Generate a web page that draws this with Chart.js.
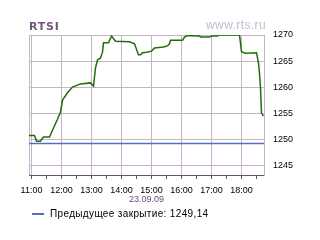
<!DOCTYPE html>
<html>
<head>
<meta charset="utf-8">
<script src="https://cdn.jsdelivr.net/npm/chart.js@4/dist/chart.umd.min.js"></script>
<style>
  body { margin: 0; background: #fff; overflow: hidden; }
  #wrap { position: relative; width: 320px; height: 240px; }
  #wrap div { position: absolute; white-space: nowrap; line-height: 1; }
  #title { left: 29px; top: 21px; font: bold 11px "DejaVu Sans", sans-serif; letter-spacing: 0.8px; color: #74567c; }
  #site { left: 206px; top: 19px; font: 12px "Liberation Sans", Arial, sans-serif; letter-spacing: 0.4px; color: #c8b8d0; }
  #date { left: 129px; top: 195px; font: 9px "Liberation Sans", Arial, sans-serif; color: #6a4a78; }
  #legLine { left: 32px; top: 213px; width: 12px; height: 2px; background: #4f6fc8; }
  #legText { left: 50px; top: 209px; font: 10px "Liberation Sans", Arial, sans-serif; letter-spacing: 0.35px; color: #000; }
</style>
</head>
<body>
<div id="wrap">
  <canvas id="mycanvas" width="320" height="240"></canvas>
  <div id="title">RTSI</div>
  <div id="site">www.rts.ru</div>
  <div id="date">23.09.09</div>
  <div id="legLine"></div>
  <div id="legText">Предыдущее закрытие: 1249,14</div>
</div>
<script>
// minutes since midnight
var times = [655, 666, 670, 678, 684, 696, 702, 712, 718, 722, 732, 742, 758, 778, 784, 788, 792, 798, 802, 804,
             814, 820, 828, 856, 866, 874, 878, 882, 890, 900, 906, 924, 932, 936, 938, 962, 966, 972, 996, 998,
             1016, 1020, 1032, 1034, 1076, 1080, 1088, 1110, 1114, 1116, 1118, 1120, 1124];
var rtsi = [1250.7, 1250.7, 1249.6, 1249.6, 1250.4, 1250.4, 1251.7, 1253.8, 1255.2, 1257.5, 1258.9, 1260.0, 1260.6, 1260.8, 1260.2, 1263.7, 1265.2, 1265.6, 1266.7, 1268.5,
            1268.5, 1269.8, 1268.8, 1268.7, 1268.3, 1266.2, 1266.2, 1266.6, 1266.7, 1266.9, 1267.5, 1267.7, 1267.9, 1268.3, 1269.0, 1269.0, 1269.6, 1269.9, 1269.8, 1269.6,
            1269.6, 1269.8, 1269.8, 1270.0, 1270.0, 1266.8, 1266.5, 1266.6, 1264.6, 1262.7, 1259.8, 1255.0, 1254.4];
var prevClose = 1249.14;
var hourTicks = [660, 720, 780, 840, 900, 960, 1020, 1080];
var hourLabels = ['11:00', '12:00', '13:00', '14:00', '15:00', '16:00', '17:00', '18:00'];
var yTicks = [1245, 1250, 1255, 1260, 1265, 1270];
var xMin = 655, xMax = 1125;

var gridColor = '#c4b4c8';
var axisColor = '#6a4f70';

var points = [];
for (var i in times) {
	points.push({x: times[i], y: rtsi[i]});
}

var xTickVals = [xMin];
for (var t = 660; t <= 1110; t += 30) xTickVals.push(t);

Chart.defaults.font.family = '"Liberation Sans", Arial, sans-serif';

var ctx = document.getElementById('mycanvas');
var chart = new Chart(ctx, {
	type: 'line',
	data: {
		datasets: [
			{
				label: 'RTSI',
				data: points,
				borderColor: '#1f6e0a',
				borderWidth: 1.5,
				pointRadius: 0,
				tension: 0
			},
			{
				label: 'Предыдущее закрытие',
				data: [{x: xMin, y: prevClose}, {x: xMax, y: prevClose}],
				borderColor: '#4f6fc8',
				borderWidth: 1.5,
				pointRadius: 0
			}
		]
	},
	options: {
		responsive: false,
		animation: false,
		layout: { padding: { left: 29, top: 35, right: 0, bottom: 0 } },
		plugins: { legend: { display: false }, title: { display: false }, tooltip: { enabled: false } },
		scales: {
			x: {
				type: 'linear',
				min: xMin,
				max: xMax,
				afterBuildTicks: function(scale) {
					scale.ticks = xTickVals.map(function(v) { return {value: v}; });
				},
				afterFit: function(scale) { scale.height = 65; },
				ticks: {
					autoSkip: false,
					maxRotation: 0,
					padding: 6,
					color: '#000',
					font: { size: 9 },
					callback: function(value) {
						var k = hourTicks.indexOf(value);
						return k >= 0 ? hourLabels[k] : '';
					}
				},
				grid: {
					tickLength: 4,
					color: function(c) {
						var v = c.tick ? c.tick.value : null;
						return (v === xMin || hourTicks.indexOf(v) >= 0) ? gridColor : 'rgba(0,0,0,0)';
					},
					tickColor: function(c) {
						return (c.tick && c.tick.value === xMin) ? 'rgba(0,0,0,0)' : axisColor;
					}
				},
				border: { color: axisColor, width: 1 }
			},
			y: {
				position: 'right',
				min: 1243.1,
				max: 1270,
				afterBuildTicks: function(scale) {
					scale.ticks = yTicks.map(function(v) { return {value: v}; });
				},
				afterFit: function(scale) { scale.width = 56; },
				ticks: {
					padding: 9,
					color: '#000',
					font: { size: 9 },
					callback: function(value) { return String(value); }
				},
				grid: { color: gridColor, drawTicks: false },
				border: { color: gridColor }
			}
		}
	}
});
</script>
</body>
</html>
